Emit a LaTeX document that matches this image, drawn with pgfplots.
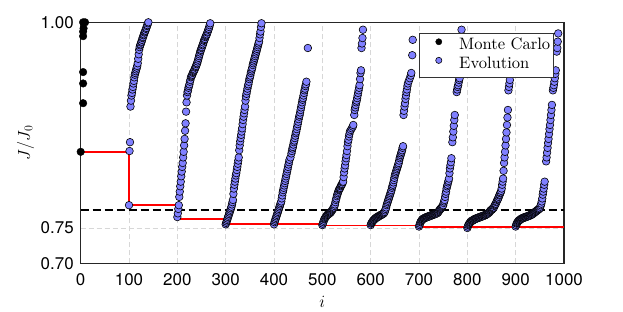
\documentclass[border=0pt]{standalone}
\usepackage{fontspec}
\usepackage{pgfplots}
\pgfplotsset{compat=1.18}
\newfontfamily\ticksfont{TeX Gyre Heros}
\newfontfamily\legfont{lmroman10-regular.otf}
\definecolor{evo}{rgb}{0.5,0.5,1}
\definecolor{gridc}{RGB}{215,215,215}
\begin{document}
\begin{tikzpicture}
\useasboundingbox (-80.7bp,-48.7bp) rectangle (542.3bp,263.3bp);
\begin{axis}[
  scale only axis, width=483.3bp, height=241bp,
  at={(0,0)}, anchor=south west,
  xmin=0, xmax=1000, ymin=0.70, ymax=1.00,
  y coord trafo/.code={\pgfmathparse{exp(#1)}},
  y coord inv trafo/.code={\pgfmathparse{ln(#1)}},
  xtick={0,100,200,300,400,500,600,700,800,900,1000},
  xticklabels={0,100,200,300,400,500,600,700,800,900,1000},
  ytick={0.70,0.75,1.00}, yticklabels={0.70,0.75,1.00},
  major tick length=0pt,
  tick label style={font=\ticksfont\fontsize{17}{20}\selectfont},
  xticklabel style={yshift=-7bp},
  yticklabel style={xshift=-3.5bp},
  xmajorgrids, ymajorgrids,
  major grid style={gridc, dashed, line width=0.8bp, dash pattern=on 5bp off 3bp},
  axis line style={black!85, line width=1.1bp},
  clip=false,
  xlabel={$i$}, ylabel={$J/J_0$},
  label style={font=\fontsize{17}{20}\selectfont},
  x label style={at={(axis description cs:0.5,-0.162)}, anchor=center},
  y label style={at={(axis description cs:-0.114,0.5)}, anchor=center},
  legend style={at={(rel axis cs:0.9795,0.9543)}, anchor=north east,
    draw=black!80, fill=white, line width=0.9bp, inner sep=3.4bp,
    row sep=0bp, column sep=0bp,
    nodes={inner sep=0bp, text height=12.3bp, text depth=6.3bp},
    font=\legfont\fontsize{16.6}{19}\selectfont},
  legend cell align=left,
  legend image code/.code={\path (0bp,0bp) (35.6bp,0bp);
     \draw[#1, mark size=3.1bp] plot coordinates {(15.6bp,4.7bp)};},
]
\addplot[red, line width=1.8bp, forget plot] coordinates {
(0,0.850)(100,0.850)(100,0.781)(205,0.781)(205,0.762)(298,0.762)(298,0.7551)(500,0.7551)(500,0.7535)(700,0.7535)(700,0.7509)(1000,0.7509)};
\addplot[black, line width=2.2bp, dash pattern=on 8bp off 4bp, forget plot] coordinates {(0,0.7745)(1000,0.7745)};
\addplot[only marks, mark=*, mark size=3.8bp, mark options={fill=black, draw=black, line width=0.4bp}] coordinates {
(0,0.850)(5,0.909)(5,0.932)(5,0.945)(5,0.985)(5,0.990)(6,0.9935)(5,1.000)(9,1.000)};
\addlegendentry{Monte Carlo}
\addplot[only marks, mark=*, mark size=3.8bp, mark options={fill=evo, draw=black, line width=0.6bp}] coordinates {
(100,0.781)(101,0.851)(102,0.862)(103,0.905)(104,0.912)(105,0.918)(106,0.921)(107,0.925)(108,0.928)(109,0.932)(110,0.935)(111,0.939)(112,0.942)(113,0.944)(114,0.946)(115,0.948)(116,0.950)(117,0.952)(118,0.955)(119,0.960)(120,0.965)(121,0.970)(122,0.973)(123,0.975)(124,0.976)(125,0.978)(126,0.979)(127,0.981)(128,0.983)(129,0.984)(130,0.986)(131,0.987)(132,0.989)(133,0.990)(134,0.991)(135,0.993)(136,0.994)(137,0.996)(138,0.997)(139,0.999)(140,1.000)
(200,0.765)(201,0.770)(202,0.776)(203,0.781)(204,0.792)(205,0.799)(206,0.806)(207,0.812)(208,0.819)(209,0.825)(210,0.831)(211,0.836)(212,0.843)(213,0.850)(214,0.858)(215,0.866)(216,0.876)(217,0.885)(218,0.899)(219,0.910)(220,0.918)(221,0.922)(222,0.924)(223,0.927)(224,0.929)(225,0.931)(226,0.934)(227,0.936)(228,0.939)(229,0.940)(230,0.941)(231,0.942)(232,0.944)(233,0.945)(234,0.946)(235,0.947)(236,0.948)(237,0.950)(238,0.951)(239,0.952)(240,0.954)(241,0.955)(242,0.957)(243,0.959)(244,0.961)(245,0.963)(246,0.965)(247,0.967)(248,0.969)(249,0.970)(250,0.972)(251,0.973)(252,0.975)(253,0.976)(254,0.978)(255,0.980)(256,0.981)(257,0.982)(258,0.984)(259,0.985)(260,0.986)(261,0.987)(262,0.989)(263,0.990)(264,0.992)(265,0.993)(266,0.995)(267,0.997)(268,0.999)
(300,0.755)(301,0.757)(302,0.759)(303,0.761)(304,0.763)(305,0.765)(306,0.767)(307,0.769)(308,0.771)(309,0.773)(310,0.775)(311,0.777)(312,0.779)(313,0.782)(314,0.785)(315,0.788)(316,0.796)(317,0.803)(318,0.808)(319,0.812)(320,0.816)(321,0.820)(322,0.823)(323,0.827)(324,0.831)(325,0.835)(326,0.839)(327,0.843)(328,0.852)(329,0.858)(330,0.863)(331,0.867)(332,0.871)(333,0.875)(334,0.879)(335,0.884)(336,0.889)(337,0.893)(338,0.897)(339,0.901)(340,0.905)(341,0.912)(342,0.917)(343,0.920)(344,0.923)(345,0.926)(346,0.929)(347,0.931)(348,0.934)(349,0.937)(350,0.939)(351,0.941)(352,0.944)(353,0.946)(354,0.948)(355,0.950)(356,0.953)(357,0.955)(358,0.957)(359,0.959)(360,0.961)(361,0.963)(362,0.965)(363,0.967)(364,0.969)(365,0.971)(366,0.973)(367,0.975)(368,0.977)(369,0.979)(370,0.983)(371,0.987)(372,0.990)(373,0.995)(374,0.999)
(400,0.755)(401,0.758)(402,0.760)(403,0.762)(404,0.764)(405,0.766)(406,0.768)(407,0.770)(408,0.772)(409,0.774)(410,0.776)(411,0.778)(412,0.780)(413,0.782)(414,0.784)(415,0.786)(416,0.790)(417,0.794)(418,0.798)(419,0.801)(420,0.804)(421,0.807)(422,0.810)(423,0.813)(424,0.816)(425,0.819)(426,0.822)(427,0.825)(428,0.828)(429,0.831)(430,0.834)(431,0.837)(432,0.840)(434,0.843)(436,0.848)(437,0.851)(438,0.854)(439,0.856)(440,0.859)(441,0.862)(442,0.864)(443,0.867)(444,0.870)(445,0.873)(446,0.875)(447,0.878)(448,0.881)(449,0.884)(450,0.887)(451,0.890)(452,0.893)(453,0.895)(454,0.898)(455,0.901)(456,0.904)(457,0.907)(458,0.910)(459,0.913)(460,0.915)(461,0.918)(462,0.921)(463,0.924)(464,0.926)(465,0.929)(466,0.931)(467,0.934)(470,0.972)
(500,0.754)(501,0.756)(502,0.758)(503,0.760)(504,0.762)(505,0.763)(506,0.764)(507,0.765)(508,0.766)(509,0.767)(510,0.768)(511,0.768)(512,0.769)(513,0.769)(514,0.770)(515,0.770)(516,0.771)(517,0.771)(518,0.772)(519,0.773)(520,0.774)(521,0.775)(522,0.776)(523,0.777)(524,0.778)(525,0.780)(526,0.782)(527,0.785)(528,0.788)(529,0.790)(530,0.793)(531,0.795)(532,0.797)(533,0.799)(534,0.801)(535,0.802)(536,0.803)(537,0.804)(538,0.806)(539,0.807)(540,0.808)(541,0.809)(542,0.811)(543,0.812)(544,0.818)(545,0.824)(546,0.829)(547,0.833)(548,0.838)(549,0.842)(550,0.846)(551,0.851)(552,0.857)(553,0.862)(554,0.865)(555,0.869)(556,0.872)(557,0.875)(559,0.877)(561,0.879)(563,0.881)(564,0.883)(566,0.895)(567,0.901)(568,0.904)(569,0.907)(570,0.910)(571,0.912)(572,0.915)(573,0.918)(574,0.921)(575,0.924)(576,0.927)(577,0.930)(578,0.937)(579,0.944)(580,0.947)(581,0.972)(582,0.977)(583,0.983)(584,0.992)
(600,0.754)(601,0.756)(602,0.757)(603,0.758)(604,0.759)(605,0.760)(606,0.761)(607,0.761)(608,0.762)(609,0.763)(610,0.763)(611,0.764)(612,0.764)(613,0.765)(614,0.765)(615,0.765)(616,0.766)(617,0.766)(618,0.767)(619,0.767)(620,0.767)(621,0.768)(622,0.768)(623,0.768)(624,0.769)(625,0.769)(626,0.770)(627,0.770)(628,0.771)(629,0.772)(630,0.774)(631,0.776)(632,0.778)(633,0.781)(634,0.783)(635,0.785)(636,0.787)(637,0.789)(638,0.791)(639,0.793)(640,0.795)(641,0.797)(642,0.799)(643,0.801)(644,0.804)(645,0.806)(646,0.808)(647,0.811)(648,0.814)(649,0.817)(650,0.820)(651,0.822)(652,0.824)(653,0.826)(654,0.828)(655,0.830)(656,0.832)(657,0.834)(658,0.836)(659,0.839)(660,0.842)(661,0.844)(662,0.846)(663,0.848)(664,0.850)(665,0.852)(666,0.855)(667,0.857)(668,0.895)(669,0.900)(670,0.905)(671,0.909)(672,0.914)(673,0.918)(674,0.922)(675,0.925)(676,0.929)(677,0.932)(679,0.935)(681,0.938)(683,0.941)(684,0.944)(686,0.964)(687,0.981)
(700,0.752)(701,0.754)(702,0.756)(703,0.758)(704,0.759)(705,0.760)(706,0.761)(707,0.762)(708,0.762)(709,0.763)(710,0.763)(711,0.763)(712,0.764)(713,0.764)(714,0.764)(715,0.765)(716,0.765)(717,0.765)(718,0.765)(719,0.766)(720,0.766)(721,0.766)(722,0.766)(723,0.767)(724,0.767)(725,0.767)(726,0.767)(727,0.768)(728,0.768)(729,0.768)(730,0.768)(731,0.769)(732,0.769)(733,0.769)(734,0.769)(735,0.770)(736,0.770)(737,0.770)(738,0.771)(739,0.771)(740,0.772)(741,0.773)(742,0.774)(743,0.775)(744,0.776)(745,0.776)(746,0.777)(747,0.778)(748,0.779)(749,0.780)(750,0.781)(751,0.784)(752,0.786)(753,0.788)(754,0.792)(755,0.796)(756,0.799)(757,0.803)(758,0.806)(759,0.808)(760,0.811)(761,0.813)(762,0.816)(763,0.823)(764,0.829)(765,0.833)(766,0.837)(767,0.842)(769,0.862)(770,0.868)(771,0.875)(772,0.882)(773,0.889)(774,0.895)(778,0.922)(779,0.925)(780,0.928)(781,0.930)(782,0.933)(783,0.936)(784,0.938)(785,0.950)(786,0.965)(787,0.980)(788,0.992)
(800,0.750)(801,0.752)(802,0.754)(803,0.755)(804,0.756)(805,0.757)(806,0.758)(807,0.758)(808,0.759)(809,0.760)(810,0.760)(811,0.760)(812,0.761)(813,0.761)(814,0.762)(815,0.762)(816,0.762)(817,0.763)(818,0.763)(819,0.763)(820,0.763)(821,0.764)(822,0.764)(823,0.764)(824,0.764)(825,0.765)(826,0.765)(827,0.765)(828,0.765)(829,0.766)(830,0.766)(831,0.766)(832,0.766)(833,0.767)(834,0.767)(835,0.767)(836,0.767)(837,0.768)(838,0.768)(839,0.768)(840,0.769)(841,0.769)(842,0.770)(843,0.770)(844,0.771)(845,0.771)(846,0.772)(847,0.773)(848,0.774)(849,0.774)(850,0.775)(851,0.775)(852,0.776)(853,0.777)(854,0.777)(855,0.778)(856,0.780)(857,0.781)(858,0.782)(859,0.783)(860,0.785)(861,0.786)(862,0.788)(863,0.789)(864,0.790)(865,0.792)(866,0.794)(867,0.795)(868,0.797)(869,0.798)(870,0.800)(871,0.803)(872,0.808)(873,0.812)(874,0.816)(875,0.826)(876,0.836)(877,0.843)(878,0.850)(879,0.858)(880,0.866)(881,0.874)(882,0.883)(883,0.892)(884,0.901)(885,0.924)(886,0.928)(887,0.932)(888,0.936)(889,0.955)(890,0.970)
(900,0.752)(901,0.754)(902,0.756)(903,0.757)(904,0.758)(905,0.759)(906,0.760)(907,0.760)(908,0.761)(909,0.761)(910,0.762)(911,0.762)(912,0.763)(913,0.763)(914,0.763)(915,0.764)(916,0.764)(917,0.764)(918,0.764)(919,0.765)(920,0.765)(921,0.765)(922,0.765)(923,0.766)(924,0.766)(925,0.766)(926,0.766)(927,0.767)(928,0.767)(929,0.767)(930,0.767)(931,0.768)(932,0.768)(933,0.768)(934,0.769)(935,0.769)(936,0.770)(937,0.770)(938,0.771)(939,0.771)(940,0.772)(941,0.772)(942,0.773)(943,0.773)(944,0.774)(945,0.774)(946,0.775)(947,0.775)(948,0.776)(949,0.776)(950,0.777)(951,0.779)(952,0.781)(953,0.783)(954,0.786)(955,0.790)(956,0.795)(957,0.799)(958,0.803)(959,0.808)(960,0.812)(963,0.838)(964,0.843)(965,0.849)(966,0.855)(967,0.861)(968,0.866)(969,0.872)(970,0.878)(971,0.883)(972,0.889)(973,0.895)(974,0.901)(975,0.907)(977,0.924)(978,0.927)(979,0.930)(980,0.934)(981,0.938)(982,0.943)(983,0.947)(985,0.968)(986,0.972)(987,0.979)(988,0.988)
};
\addlegendentry{Evolution}
\end{axis}
\end{tikzpicture}
\end{document}
